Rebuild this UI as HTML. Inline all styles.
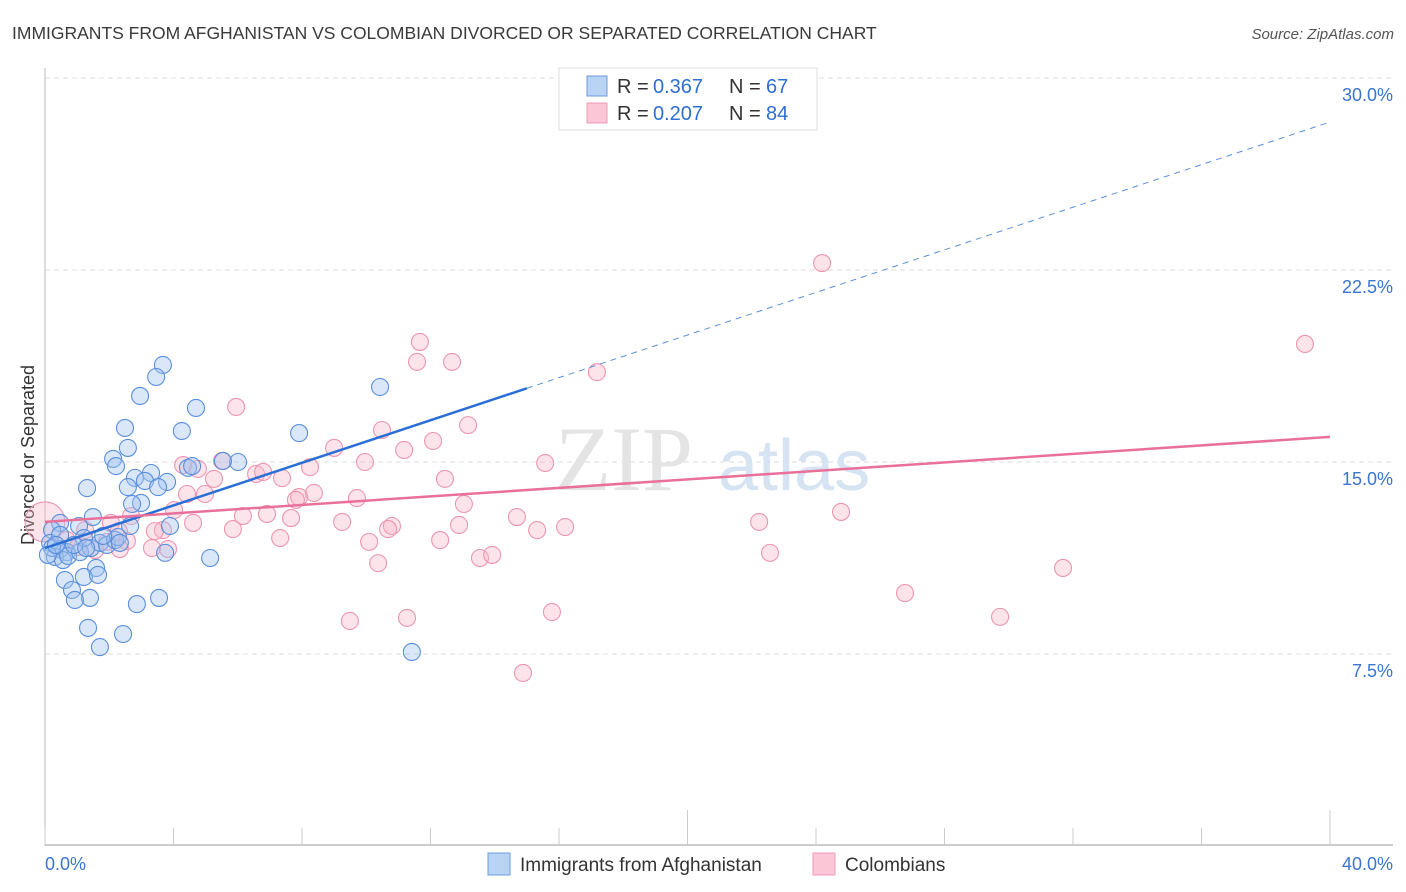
<!DOCTYPE html>
<html><head><meta charset="utf-8"><style>
body{margin:0;background:#fff;font-family:"Liberation Sans",sans-serif;}
svg{display:block}
</style></head><body>
<svg id="chart" width="1406" height="892" xmlns="http://www.w3.org/2000/svg">
<text x="12" y="39" font-size="17.5" fill="#3a3a3a">IMMIGRANTS FROM AFGHANISTAN VS COLOMBIAN DIVORCED OR SEPARATED CORRELATION CHART</text>
<text x="1394" y="39" font-size="15" fill="#555" font-style="italic" text-anchor="end">Source: ZipAtlas.com</text>
<text x="34" y="455" font-size="18" fill="#333" text-anchor="middle" transform="rotate(-90 34 455)">Divorced or Separated</text>
<g id="grid"></g>
<text x="555" y="490" font-size="92" fill="#e4e4e4" font-family="Liberation Serif,serif">ZIP</text>
<text x="718" y="490" font-size="72" fill="#d6e3f3">atlas</text>
<g id="pts"></g>
<g id="lines"></g>
<g>
<rect x="559" y="68" width="258" height="62" fill="#fff" stroke="#ddd"/>
<rect x="587" y="76" width="20" height="20" fill="#b9d3f5" stroke="#6c9be0"/>
<rect x="587" y="103" width="20" height="20" fill="#fbc7d6" stroke="#ec9bb5"/>
<text x="617" y="93" font-size="20" fill="#333">R =</text>
<text x="653" y="93" font-size="20" fill="#2e6fd1">0.367</text>
<text x="729" y="93" font-size="20" fill="#333">N =</text>
<text x="766" y="93" font-size="20" fill="#2e6fd1">67</text>
<text x="617" y="120" font-size="20" fill="#333">R =</text>
<text x="653" y="120" font-size="20" fill="#2e6fd1">0.207</text>
<text x="729" y="120" font-size="20" fill="#333">N =</text>
<text x="766" y="120" font-size="20" fill="#2e6fd1">84</text>
</g>
<g>
<rect x="488" y="853" width="22" height="22" fill="#b9d3f5" stroke="#6c9be0"/>
<text x="520" y="871" font-size="19" fill="#333">Immigrants from Afghanistan</text>
<rect x="813" y="853" width="22" height="22" fill="#fbc7d6" stroke="#ec9bb5"/>
<text x="845" y="871" font-size="19" fill="#333">Colombians</text>
</g>
</svg>
<script>
const xTicks=[0,4,8,12,16,20,24,28,32,36,40];
const yTicks=[7.5,15,22.5,30];
const yTickLabels=["7.5%","15.0%","22.5%","30.0%"];
const xEndLabels=["0.0%","40.0%"];
const blueX=[3.67,3.46,2.96,4.70,4.26,2.49,2.58,2.12,2.21,6.01,5.54,4.45,4.58,3.30,2.80,3.11,3.80,3.52,2.58,1.31,2.99,2.71,3.89,2.65,1.49,1.06,0.47,0.22,0.16,0.47,0.68,0.31,0.56,0.72,1.09,1.43,1.71,1.93,2.18,2.27,2.33,1.81,1.21,0.90,3.74,5.14,1.59,1.21,1.65,0.62,0.84,1.40,0.93,2.86,3.55,1.34,2.43,1.71,11.42,10.43,7.91,0.22,0.47,0.09,0.34,1.28];
const blueY=[18.79,18.32,17.58,17.11,16.21,16.33,15.55,15.12,14.84,15.00,15.04,14.77,14.84,14.57,14.38,14.26,14.22,14.02,14.02,13.98,13.40,13.36,12.50,12.50,12.85,12.50,12.62,12.34,11.84,11.60,11.48,11.29,11.17,11.33,11.48,11.64,11.84,11.76,11.95,12.07,11.84,12.11,12.03,11.76,11.45,11.25,10.86,10.51,10.59,10.39,10.00,9.69,9.61,9.45,9.69,8.52,8.28,7.77,7.58,17.93,16.13,11.64,12.15,11.37,11.76,11.64];
const pinkX=[24.19,39.22,11.67,11.58,12.67,17.18,5.95,13.17,10.49,11.18,12.08,9.00,9.96,15.57,5.51,4.30,4.76,6.57,6.79,5.26,7.38,8.25,12.45,4.42,4.98,7.91,8.37,7.81,9.71,13.04,4.02,6.16,6.91,7.66,9.25,10.80,10.68,12.89,14.69,16.19,15.32,22.23,24.78,5.85,4.61,2.68,2.05,2.30,3.67,1.93,2.55,3.33,3.83,7.32,10.09,12.30,13.54,13.92,10.37,22.57,31.69,26.77,15.78,9.49,11.27,29.73,14.88,0.68,1.25,1.56,3.42,2.33,1.03,0];
const pinkY=[22.77,19.61,19.69,18.91,18.91,18.51,17.15,16.44,16.25,15.47,15.82,15.55,15.00,14.96,15.04,14.88,14.73,14.53,14.61,14.34,14.37,14.80,14.34,13.75,13.75,13.63,13.79,13.52,13.59,13.36,13.12,12.89,12.97,12.81,12.66,12.50,12.38,12.54,12.85,12.46,12.34,12.66,13.05,12.38,12.62,12.89,12.62,12.30,12.34,11.88,11.91,11.64,11.60,12.03,11.88,11.95,11.25,11.37,11.05,11.45,10.86,9.88,9.14,8.79,8.91,8.95,6.76,11.95,12.34,11.56,12.30,11.60,11.68,12.66];
const blueTrend=[11.64,0.416]; // intercept, slope
const pinkTrend=[12.66,0.083];
const blueSolidEnd=15.0;

const NS="http://www.w3.org/2000/svg";
const X0=45,X1=1330,Y0=846,PXY=25.6;
const sx=v=>X0+(v/40)*(X1-X0);
const sy=v=>Y0-v*PXY;
function mk(tag,attrs,parent){const e=document.createElementNS(NS,tag);for(const k in attrs)e.setAttribute(k,attrs[k]);parent.appendChild(e);return e;}
const grid=document.getElementById('grid');
yTicks.forEach((t,i)=>{
  const l=mk('line',{x1:X0,x2:1393,y1:sy(t),y2:sy(t),stroke:'#dcdcdc','stroke-dasharray':'5,4'},grid);
  
  
  const tx=mk('text',{x:1393,y:sy(t)+23,'font-size':18,fill:'#3b74d0','text-anchor':'end'},grid);
  tx.textContent=yTickLabels[i];
  
  
});
const ax=mk('line',{x1:X0,x2:X0,y1:68,y2:846,stroke:'#bbb'},grid);


const bx=mk('line',{x1:X0,x2:1393,y1:845,y2:845,stroke:'#bbb','stroke-width':1.5},grid);


xTicks.forEach((t,i)=>{
  const tall=(i==5||i==10);
  const l=mk('line',{x1:sx(t),x2:sx(t),y1:tall?810:828,y2:845,stroke:'#ccc'},grid);
  
  
});
[[0,'start'],[40,'end']].forEach((d,i)=>{
  const tx=mk('text',{x:i==0?45:1393,y:870,'font-size':18,fill:'#3b74d0','text-anchor':d[1]},grid);
  tx.textContent=xEndLabels[i];
  
  
});
const pts=document.getElementById('pts');
pinkX.forEach((x,i)=>{
  const big=(i==pinkX.length-1);
  const c=mk('circle',{cx:sx(x),cy:sy(pinkY[i]),r:big?20:8.5,fill:'rgba(248,178,198,0.35)',stroke:'#ec95b1','stroke-width':1.1},pts);
  
  
});
blueX.forEach((x,i)=>{
  const c=mk('circle',{cx:sx(x),cy:sy(blueY[i]),r:8.5,fill:'rgba(160,196,240,0.4)',stroke:'#5a8fdc','stroke-width':1.1},pts);
  
  
});
const lines=document.getElementById('lines');
const bt=v=>blueTrend[0]+blueTrend[1]*v, pt=v=>pinkTrend[0]+pinkTrend[1]*v;
const l1=mk('line',{x1:sx(0),y1:sy(bt(0)),x2:sx(blueSolidEnd),y2:sy(bt(blueSolidEnd)),stroke:'#2a6fd6','stroke-width':2.5},lines);


const l2=mk('line',{x1:sx(blueSolidEnd),y1:sy(bt(blueSolidEnd)),x2:sx(40),y2:sy(bt(40)),stroke:'#5a8fdc','stroke-width':1,'stroke-dasharray':'6,5'},lines);


const l3=mk('line',{x1:sx(0),y1:sy(pt(0)),x2:sx(40),y2:sy(pt(40)),stroke:'#e8709a','stroke-width':2.5},lines);


</script>
</body></html>
